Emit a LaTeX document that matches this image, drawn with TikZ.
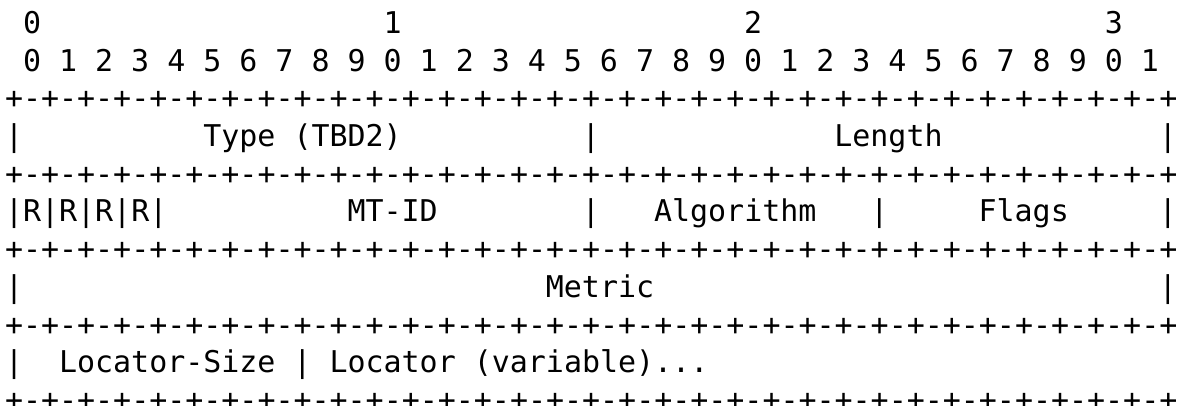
\documentclass[tikz,border=0pt]{standalone}
\usepackage{fontspec}
\newfontfamily\asciifont{DejaVu Sans Mono}
\usepackage{tikz}
\usetikzlibrary{positioning}
\tikzset{
  cell/.style  ={anchor=base west, inner sep=0pt, outer sep=0pt,
                 font=\asciifont\fontsize{14.98pt}{18pt}\selectfont},
  ruler/.style ={cell},   % +-+-+ border lines
  bitno/.style ={cell},   % bit numbers
}

\begin{document}
\begin{tikzpicture}
  \useasboundingbox (0,0) rectangle (591.5pt,203pt);
  \begin{scope}[shift={(2.5pt,186.25pt)}, x=9.015pt, y=-18.85pt]
    % bit numbers
    \foreach \t [count=\i from 0] in {0,1,2,3}
      \node[bitno] (tens\t) at (1+20*\i,0) {\t};
    \foreach \k in {0,...,31}{
      \pgfmathtruncatemacro\d{mod(\k,10)}
      \node[bitno] (bit\k) at (1+2*\k,1) {\d};
    }
    % border lines
    \foreach \r in {2,4,6,8,10}
      \node[ruler] (rule\r) at (0,\r) {\foreach \i in {1,...,32}{+-}+};
    % word 1
    \node[cell] (w1a) at (0,3)  {|};
    \node[cell] (type) at (11,3) {Type (TBD2)};
    \node[cell] (w1b) at (32,3) {|};
    \node[cell] (len) at (46,3) {Length};
    \node[cell] (w1c) at (64,3) {|};
    % word 2
    \node[cell] (rsv) at (0,5)  {|R|R|R|R|};
    \node[cell] (mtid) at (19,5) {MT-ID};
    \node[cell] (w2b) at (32,5) {|};
    \node[cell] (alg) at (36,5) {Algorithm};
    \node[cell] (w2c) at (48,5) {|};
    \node[cell] (flags) at (54,5) {Flags};
    \node[cell] (w2d) at (64,5) {|};
    % word 3
    \node[cell] (w3a) at (0,7)  {|};
    \node[cell] (metric) at (30,7) {Metric};
    \node[cell] (w3b) at (64,7) {|};
    % word 4
    \node[cell] (w4a) at (0,9)  {|};
    \node[cell] (lsize) at (3,9) {Locator-Size};
    \node[cell] (w4b) at (16,9) {|};
    \node[cell] (loc) at (18,9) {Locator (variable)...};
  \end{scope}
\end{tikzpicture}
\end{document}
